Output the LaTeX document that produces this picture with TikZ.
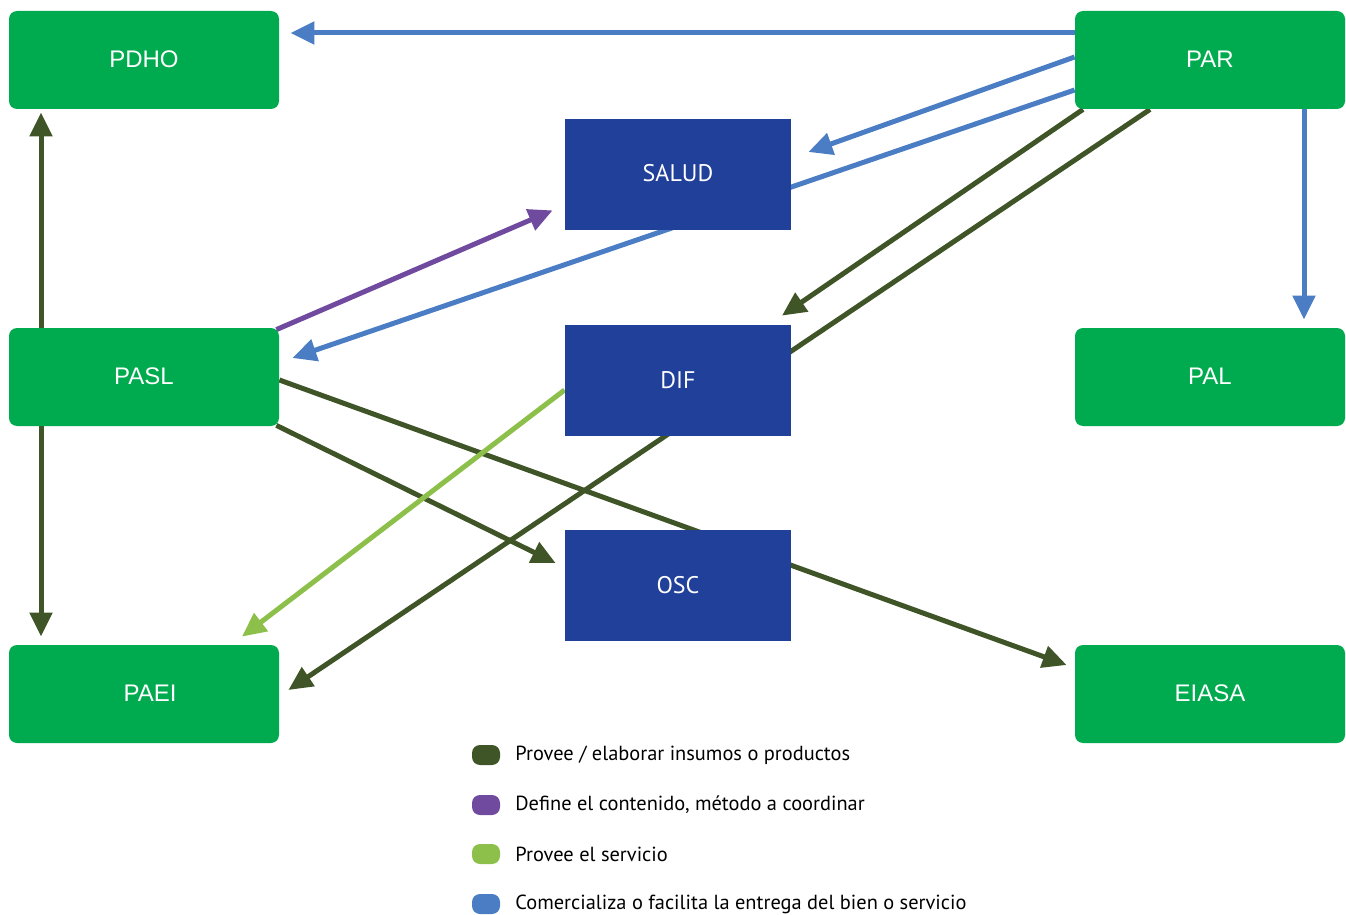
\documentclass[tikz,border=0pt]{standalone}
\usepackage{fontspec}
\setmainfont{Liberation Sans}
\newfontfamily\myriad{PT Sans}
\usetikzlibrary{arrows.meta,calc,backgrounds}
\definecolor{gnode}{HTML}{00AB4F}
\definecolor{bnode}{HTML}{21409A}
\definecolor{cdark}{HTML}{3F5427}
\definecolor{cpurple}{HTML}{6F4A9E}
\definecolor{clight}{HTML}{8DC04B}
\definecolor{cblue}{HTML}{4A7DC3}
\tikzset{
  gbox/.style={fill=gnode, rounded corners=4pt, minimum width=135pt, minimum height=49pt, inner sep=0pt, text=white, font=\fontsize{12}{14}\selectfont},
  bbox/.style={fill=bnode, minimum width=113pt, minimum height=55.5pt, inner sep=0pt, text=white, font=\myriad\fontsize{12}{14}\selectfont},
  conn/.style={line width=2.5pt, -{Triangle[length=12pt,width=11pt]}},
  pill/.style={rounded corners=4pt, minimum width=14pt, minimum height=10pt, inner sep=0pt},
  legtxt/.style={anchor=west, inner sep=0pt, font=\myriad\fontsize{10.2}{12}\selectfont}
}
\newcommand{\up}[1]{\raisebox{1.2pt}{#1}}
\begin{document}
\begin{tikzpicture}[x=0.5pt,y=-0.5pt]
\useasboundingbox (0,0) rectangle (1346,915);
\node[gbox] (pdho) at (144,60) {\up{PDHO}};
\node[gbox] (par) at (1210,60) {\up{PAR}};
\node[bbox] (salud) at (678,174.5) {\up{SALUD}};
\node[gbox] (pasl) at (144,377) {\up{PASL}};
\node[bbox] (dif) at (678,380.5) {DIF};
\node[gbox] (pal) at (1210,377) {\up{PAL}};
\node[bbox] (osc) at (678,585.5) {OSC};
\node[gbox] (paei) at (144,694) {\up{\kern6pt PAEI}};
\node[gbox] (eiasa) at (1210,694) {\up{EIASA}};
\begin{scope}[on background layer]
% blue
\draw[conn, cblue] ($(par.west)+(0,-27)$) -- ($(pdho.east)+(11,-27)$);
\draw[conn, cblue] ($(par.west)+(0,-3)$) -- ($(salud.east)+(17,-22.5)$);
\draw[conn, cblue] ($(par.west)+(0,30)$) -- ($(pasl.east)+(13,-19)$);
\draw[conn, cblue] ($(par.south)+(94,0)$) -- ($(pal.north)+(94,-8)$);
% dark green
\draw[conn, cdark] ($(pasl.north)+(-103,0)$) -- ($(pdho.south)+(-103,3)$);
\draw[conn, cdark] ($(pasl.south)+(-103,0)$) -- ($(paei.north)+(-103,-8)$);
\draw[conn, cdark] ($(par.south)+(-127,0)$) -- ($(dif.north)+(104,-9)$);
\draw[conn, cdark] ($(par.south)+(-60,0)$) -- ($(paei.east)+(9,-4)$);
\draw[conn, cdark] ($(pasl.south east)+(-3,-1)$) -- ($(osc.west)+(-9,-22.5)$);
\draw[conn, cdark] ($(pasl.east)+(0,3)$) -- ($(eiasa.west)+(-8,-29)$);
% purple
\draw[conn, cpurple] ($(pasl.north east)+(-3,2)$) -- ($(salud.south west)+(-12,-20)$);
% light green
\draw[conn, clight] ($(dif.west)+(0,9.5)$) -- ($(paei.north)+(98,-8)$);
\end{scope}
% legend
\node[pill, fill=cdark] (l1) at (486,755) {};
\node[pill, fill=cpurple] (l2) at (486,805) {};
\node[pill, fill=clight] (l3) at (486,854) {};
\node[pill, fill=cblue] (l4) at (486,904) {};
\node[legtxt] (t1) at (515,755) {Provee / elaborar insumos o productos};
\node[legtxt] (t2) at (515,805) {Define el contenido, método a coordinar};
\node[legtxt] (t3) at (515,854) {Provee el servicio};
\node[legtxt] (t4) at (515,904) {Comercializa o facilita la entrega del bien o servicio};
\end{tikzpicture}
\end{document}
